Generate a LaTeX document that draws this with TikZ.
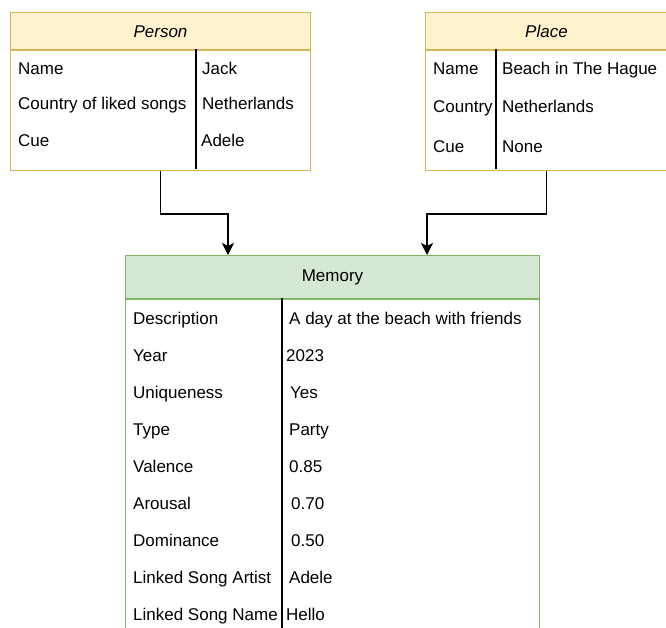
\documentclass[tikz,border=0pt]{standalone}
\usepackage{fontspec}
\setmainfont{Liberation Sans}
\usetikzlibrary{arrows.meta,positioning}
\definecolor{headyellow}{HTML}{FFF2CC}
\definecolor{edgeyellow}{HTML}{D6B656}
\definecolor{headgreen}{HTML}{D5E8D4}
\definecolor{edgegreen}{HTML}{82B366}

\begin{document}
\begin{tikzpicture}[x=1pt,y=-1pt,
  font=\fontsize{17}{20}\selectfont,
  headbox/.style={anchor=north west,line width=1pt,text height=12pt,text depth=0pt,minimum height=37pt},
  bodybox/.style={anchor=north west,draw,line width=1pt},
  field/.style={anchor=base west,inner sep=0pt},
  divider/.style={line width=1.3pt},
  link/.style={-{Stealth[length=12pt,width=12pt,inset=3pt]},line width=1.2pt}]
%%Frame
\useasboundingbox (0,0) rectangle (666,627);
\clip (0,0) rectangle (666,627);
%%Person
\node[headbox,draw=edgeyellow,fill=headyellow,minimum width=300pt] (personhead) at (10,12) {\textit{Person}};
\node[bodybox,draw=edgeyellow,minimum width=300pt,minimum height=120pt] (personbody) at (personhead.south west) {};
\draw[divider] (196,49) -- (196,169);
\node[field] (pname) at (18,74) {Name};
\node[field] (pcountry) at (18,109) {Country of liked songs};
\node[field] (pcue) at (18,146) {Cue};
\node[field] (pnameval) at (202,74) {Jack};
\node[field] (pcountryval) at (202,109) {Netherlands};
\node[field] (pcueval) at (201,146) {Adele};
%%Place
\node[headbox,draw=edgeyellow,fill=headyellow,minimum width=242pt] (placehead) at (425,12) {\textit{Place}};
\node[bodybox,draw=edgeyellow,minimum width=242pt,minimum height=120pt] (placebody) at (placehead.south west) {};
\draw[divider] (496,49) -- (496,169);
\node[field] (lname) at (433,74) {Name};
\node[field] (lcountry) at (433,112) {Country};
\node[field] (lcue) at (433,152) {Cue};
\node[field] (lnameval) at (502,74) {Beach in The Hague};
\node[field] (lcountryval) at (502,112) {Netherlands};
\node[field] (lcueval) at (502,152) {None};
%%Memory
\node[headbox,draw=edgegreen,fill=headgreen,minimum width=414pt,minimum height=43pt,text depth=4pt] (memhead) at (125,255) {Memory};
\node[bodybox,draw=edgegreen,minimum width=414pt,minimum height=360pt] (membody) at (memhead.south west) {};
\draw[divider] (282,298) -- (282,640);
\node[field] (mdesc) at (133,324) {Description};
\node[field] (myear) at (133,361) {Year};
\node[field] (muniq) at (133,398) {Uniqueness};
\node[field] (mtype) at (133,435) {Type};
\node[field] (mval) at (133,472) {Valence};
\node[field] (maro) at (133,509) {Arousal};
\node[field] (mdom) at (133,546) {Dominance};
\node[field] (martist) at (133,583) {Linked Song Artist};
\node[field] (msong) at (133,620) {Linked Song Name};
\node[field] (mdescval) at (289,324) {A day at the beach with friends};
\node[field] (myearval) at (286,361) {2023};
\node[field] (muniqval) at (290,398) {Yes};
\node[field] (mtypeval) at (289,435) {Party};
\node[field] (mvalval) at (289,472) {0.85};
\node[field] (maroval) at (291,509) {0.70};
\node[field] (mdomval) at (291,546) {0.50};
\node[field] (martistval) at (289,583) {Adele};
\node[field] (msongval) at (286,620) {Hello};
%%Links
\coordinate (personin) at (228,255);
\coordinate (placein) at (427,255);
\draw[link] (personbody.south) -- ++(0,43) -| (personin);
\draw[link] (placebody.south) -- ++(0,43) -| (placein);
\end{tikzpicture}
\end{document}
